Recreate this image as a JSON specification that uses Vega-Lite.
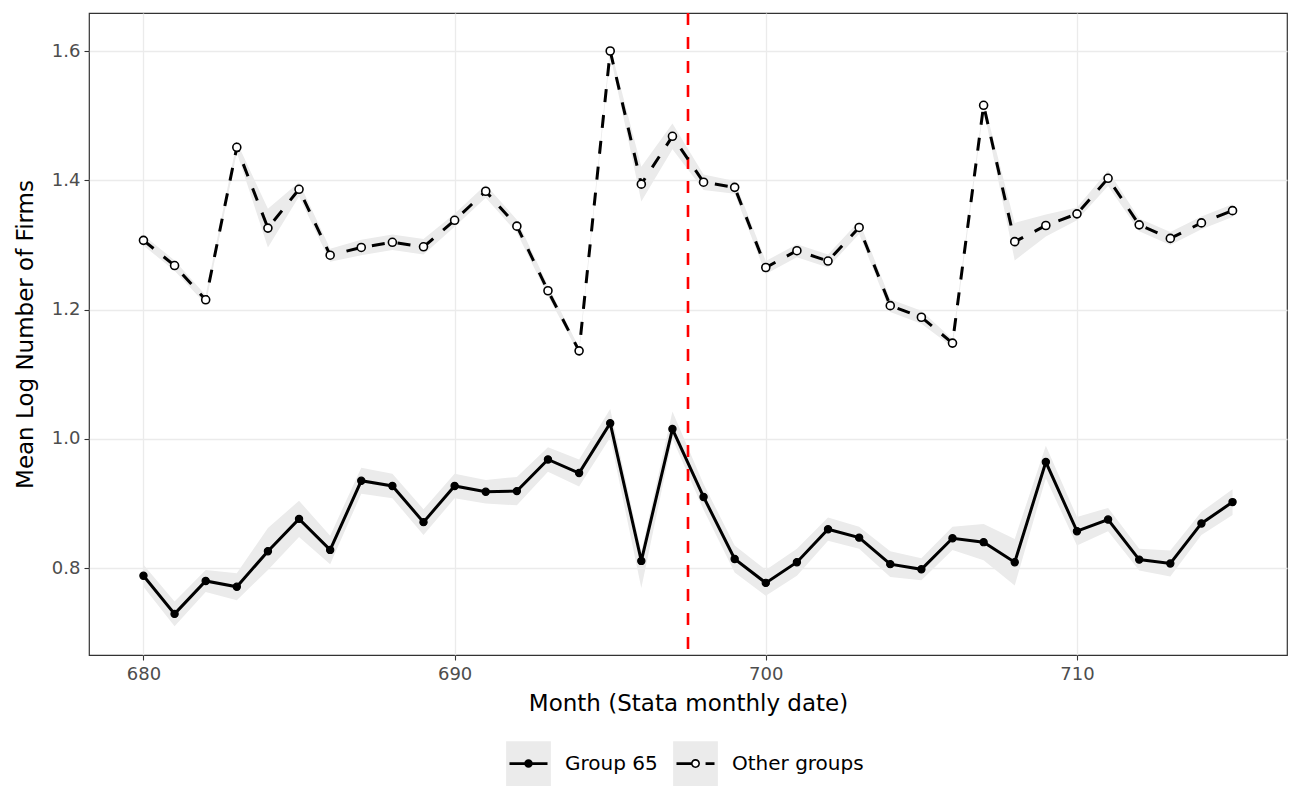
{
  "$schema": "https://vega.github.io/schema/vega-lite/v6.json",
  "autosize": {"type": "none"},
  "width": 1198,
  "height": 642,
  "padding": {"left": 89, "top": 13, "right": 13, "bottom": 145},
  "background": "white",
  "config": {
    "font": "DejaVu Sans",
    "view": {"stroke": "#333333", "strokeWidth": 1.2},
    "axis": {
      "domain": false,
      "grid": true,
      "gridColor": "#ebebeb",
      "gridWidth": 1.3,
      "tickColor": "#333333",
      "tickSize": 5,
      "tickWidth": 1.1,
      "labelColor": "#4d4d4d",
      "labelFontSize": 18,
      "labelFont": "DejaVu Sans",
      "titleFontSize": 23,
      "titleFontWeight": "normal",
      "titleColor": "black",
      "titleFont": "DejaVu Sans"
    }
  },
  "data": {
    "values": [
      {"month": 680, "group": "Group 65", "value": 0.788, "lo": 0.771, "hi": 0.805},
      {"month": 681, "group": "Group 65", "value": 0.729, "lo": 0.710, "hi": 0.748},
      {"month": 682, "group": "Group 65", "value": 0.780, "lo": 0.763, "hi": 0.797},
      {"month": 683, "group": "Group 65", "value": 0.771, "lo": 0.750, "hi": 0.792},
      {"month": 684, "group": "Group 65", "value": 0.826, "lo": 0.797, "hi": 0.862},
      {"month": 685, "group": "Group 65", "value": 0.876, "lo": 0.848, "hi": 0.904},
      {"month": 686, "group": "Group 65", "value": 0.828, "lo": 0.806, "hi": 0.850},
      {"month": 687, "group": "Group 65", "value": 0.935, "lo": 0.915, "hi": 0.955},
      {"month": 688, "group": "Group 65", "value": 0.927, "lo": 0.908, "hi": 0.946},
      {"month": 689, "group": "Group 65", "value": 0.871, "lo": 0.851, "hi": 0.891},
      {"month": 690, "group": "Group 65", "value": 0.927, "lo": 0.908, "hi": 0.946},
      {"month": 691, "group": "Group 65", "value": 0.918, "lo": 0.900, "hi": 0.936},
      {"month": 692, "group": "Group 65", "value": 0.919, "lo": 0.897, "hi": 0.941},
      {"month": 693, "group": "Group 65", "value": 0.968, "lo": 0.949, "hi": 0.987},
      {"month": 694, "group": "Group 65", "value": 0.947, "lo": 0.926, "hi": 0.968},
      {"month": 695, "group": "Group 65", "value": 1.024, "lo": 1.002, "hi": 1.046},
      {"month": 696, "group": "Group 65", "value": 0.811, "lo": 0.769, "hi": 0.825},
      {"month": 697, "group": "Group 65", "value": 1.015, "lo": 1.000, "hi": 1.042},
      {"month": 698, "group": "Group 65", "value": 0.910, "lo": 0.890, "hi": 0.930},
      {"month": 699, "group": "Group 65", "value": 0.814, "lo": 0.793, "hi": 0.835},
      {"month": 700, "group": "Group 65", "value": 0.777, "lo": 0.757, "hi": 0.797},
      {"month": 701, "group": "Group 65", "value": 0.809, "lo": 0.788, "hi": 0.830},
      {"month": 702, "group": "Group 65", "value": 0.860, "lo": 0.842, "hi": 0.878},
      {"month": 703, "group": "Group 65", "value": 0.847, "lo": 0.830, "hi": 0.864},
      {"month": 704, "group": "Group 65", "value": 0.806, "lo": 0.786, "hi": 0.826},
      {"month": 705, "group": "Group 65", "value": 0.798, "lo": 0.781, "hi": 0.815},
      {"month": 706, "group": "Group 65", "value": 0.846, "lo": 0.828, "hi": 0.864},
      {"month": 707, "group": "Group 65", "value": 0.840, "lo": 0.812, "hi": 0.868},
      {"month": 708, "group": "Group 65", "value": 0.809, "lo": 0.773, "hi": 0.845},
      {"month": 709, "group": "Group 65", "value": 0.964, "lo": 0.939, "hi": 0.989},
      {"month": 710, "group": "Group 65", "value": 0.857, "lo": 0.835, "hi": 0.879},
      {"month": 711, "group": "Group 65", "value": 0.875, "lo": 0.857, "hi": 0.893},
      {"month": 712, "group": "Group 65", "value": 0.813, "lo": 0.796, "hi": 0.830},
      {"month": 713, "group": "Group 65", "value": 0.807, "lo": 0.787, "hi": 0.827},
      {"month": 714, "group": "Group 65", "value": 0.869, "lo": 0.851, "hi": 0.887},
      {"month": 715, "group": "Group 65", "value": 0.902, "lo": 0.882, "hi": 0.922},
      {"month": 680, "group": "Other groups", "value": 1.307, "lo": 1.299, "hi": 1.315},
      {"month": 681, "group": "Other groups", "value": 1.268, "lo": 1.260, "hi": 1.276},
      {"month": 682, "group": "Other groups", "value": 1.215, "lo": 1.208, "hi": 1.222},
      {"month": 683, "group": "Other groups", "value": 1.451, "lo": 1.443, "hi": 1.459},
      {"month": 684, "group": "Other groups", "value": 1.326, "lo": 1.296, "hi": 1.356},
      {"month": 685, "group": "Other groups", "value": 1.386, "lo": 1.375, "hi": 1.397},
      {"month": 686, "group": "Other groups", "value": 1.284, "lo": 1.274, "hi": 1.294},
      {"month": 687, "group": "Other groups", "value": 1.296, "lo": 1.284, "hi": 1.308},
      {"month": 688, "group": "Other groups", "value": 1.304, "lo": 1.292, "hi": 1.316},
      {"month": 689, "group": "Other groups", "value": 1.297, "lo": 1.285, "hi": 1.309},
      {"month": 690, "group": "Other groups", "value": 1.338, "lo": 1.328, "hi": 1.348},
      {"month": 691, "group": "Other groups", "value": 1.383, "lo": 1.373, "hi": 1.393},
      {"month": 692, "group": "Other groups", "value": 1.329, "lo": 1.319, "hi": 1.339},
      {"month": 693, "group": "Other groups", "value": 1.229, "lo": 1.221, "hi": 1.237},
      {"month": 694, "group": "Other groups", "value": 1.136, "lo": 1.131, "hi": 1.141},
      {"month": 695, "group": "Other groups", "value": 1.600, "lo": 1.594, "hi": 1.606},
      {"month": 696, "group": "Other groups", "value": 1.394, "lo": 1.367, "hi": 1.421},
      {"month": 697, "group": "Other groups", "value": 1.468, "lo": 1.448, "hi": 1.488},
      {"month": 698, "group": "Other groups", "value": 1.397, "lo": 1.385, "hi": 1.409},
      {"month": 699, "group": "Other groups", "value": 1.389, "lo": 1.379, "hi": 1.399},
      {"month": 700, "group": "Other groups", "value": 1.265, "lo": 1.255, "hi": 1.275},
      {"month": 701, "group": "Other groups", "value": 1.291, "lo": 1.281, "hi": 1.301},
      {"month": 702, "group": "Other groups", "value": 1.275, "lo": 1.265, "hi": 1.285},
      {"month": 703, "group": "Other groups", "value": 1.327, "lo": 1.317, "hi": 1.337},
      {"month": 704, "group": "Other groups", "value": 1.206, "lo": 1.196, "hi": 1.216},
      {"month": 705, "group": "Other groups", "value": 1.188, "lo": 1.178, "hi": 1.198},
      {"month": 706, "group": "Other groups", "value": 1.148, "lo": 1.142, "hi": 1.154},
      {"month": 707, "group": "Other groups", "value": 1.516, "lo": 1.510, "hi": 1.522},
      {"month": 708, "group": "Other groups", "value": 1.305, "lo": 1.276, "hi": 1.334},
      {"month": 709, "group": "Other groups", "value": 1.330, "lo": 1.313, "hi": 1.347},
      {"month": 710, "group": "Other groups", "value": 1.348, "lo": 1.338, "hi": 1.358},
      {"month": 711, "group": "Other groups", "value": 1.403, "lo": 1.391, "hi": 1.415},
      {"month": 712, "group": "Other groups", "value": 1.331, "lo": 1.321, "hi": 1.341},
      {"month": 713, "group": "Other groups", "value": 1.310, "lo": 1.300, "hi": 1.320},
      {"month": 714, "group": "Other groups", "value": 1.334, "lo": 1.324, "hi": 1.344},
      {"month": 715, "group": "Other groups", "value": 1.353, "lo": 1.343, "hi": 1.363}
    ]
  },
  "encoding": {
    "x": {
      "field": "month",
      "type": "quantitative",
      "scale": {"domain": [678.25, 716.75], "nice": false, "zero": false},
      "axis": {"values": [680, 690, 700, 710], "title": "Month (Stata monthly date)", "labelPadding": 5, "titlePadding": 9}
    }
  },
  "layer": [
    {
      "mark": {"type": "area", "color": "#ebebeb", "opacity": 1},
      "encoding": {
        "y": {"field": "lo", "type": "quantitative", "scale": {"domain": [0.6654, 1.6588], "nice": false, "zero": false},
          "axis": {"values": [0.8, 1.0, 1.2, 1.4, 1.6], "format": ".1f", "title": "Mean Log Number of Firms", "labelPadding": 4, "titlePadding": 14}},
        "y2": {"field": "hi"},
        "detail": {"field": "group"}
      }
    },
    {
      "data": {"values": [{"cutoff": 697.5}]},
      "mark": {"type": "rule", "color": "#ff0000", "strokeWidth": 2.6, "strokeDash": [12, 12]},
      "encoding": {"x": {"field": "cutoff", "type": "quantitative"}}
    },
    {
      "transform": [{"filter": "datum.group === 'Group 65'"}],
      "mark": {"type": "line", "color": "black", "strokeWidth": 3},
      "encoding": {"y": {"field": "value", "type": "quantitative"}}
    },
    {
      "transform": [{"filter": "datum.group === 'Other groups'"}],
      "mark": {"type": "line", "color": "black", "strokeWidth": 3, "strokeDash": [13, 13]},
      "encoding": {"y": {"field": "value", "type": "quantitative"}}
    },
    {
      "transform": [{"filter": "datum.group === 'Group 65'"}],
      "mark": {"type": "point", "filled": true, "fill": "black", "stroke": "black", "strokeWidth": 1.2, "size": 52, "opacity": 1},
      "encoding": {"y": {"field": "value", "type": "quantitative"}}
    },
    {
      "transform": [{"filter": "datum.group === 'Other groups'"}],
      "mark": {"type": "point", "filled": true, "fill": "white", "stroke": "black", "strokeWidth": 1.6, "size": 64, "opacity": 1},
      "encoding": {"y": {"field": "value", "type": "quantitative"}}
    },
    {
      "transform": [{"filter": "false"}],
      "mark": {"type": "point", "filled": true, "shape": "M-1,-1H1V1H-1Z M0.15,0A0.15,0.15 0 1,0 -0.15,0A0.15,0.15 0 1,0 0.15,0", "stroke": "transparent", "strokeWidth": 0, "opacity": 1},
      "encoding": {
        "y": {"field": "value", "type": "quantitative"},
        "fill": {
          "field": "group",
          "type": "nominal",
          "scale": {"domain": ["a", "b"], "range": ["#ebebeb", "#ebebeb"]},
          "legend": {
            "title": null,
            "orient": "none",
            "legendX": 417,
            "legendY": 728,
            "direction": "horizontal",
            "zindex": 1,
            "symbolType": "M-1,-1H1V1H-1Z M0.15,0A0.15,0.15 0 1,0 -0.15,0A0.15,0.15 0 1,0 0.15,0",
            "symbolSize": 2000,
            "symbolStrokeWidth": 0,
            "symbolStrokeColor": "transparent",
            "symbolOpacity": 1,
            "labelExpr": "datum.value === 'a' ? 'Group 65' : 'Other groups'",
            "labelOpacity": 0,
            "labelFontSize": 20,
            "labelFont": "DejaVu Sans",
            "labelOffset": 14,
            "columnPadding": 15
          }
        }
      }
    },
    {
      "transform": [{"filter": "false"}],
      "mark": {"type": "point", "filled": true, "fill": "black", "stroke": "transparent", "strokeWidth": 0, "opacity": 1},
      "encoding": {
        "y": {"field": "value", "type": "quantitative"},
        "shape": {
          "field": "group",
          "type": "nominal",
          "scale": {
            "domain": ["Group 65", "Other groups"],
            "range": [
              "M-1,-1M1,1M-0.85,-0.06H0.85V0.06H-0.85Z M0.19,0A0.19,0.19 0 1,1 -0.19,0A0.19,0.19 0 1,1 0.19,0Z",
              "M-1,-1M1,1M-0.85,-0.06H-0.19V0.06H-0.85Z M0.2,0A0.2,0.2 0 1,1 -0.2,0A0.2,0.2 0 1,1 0.2,0Z M0.13,0A0.13,0.13 0 1,0 -0.13,0A0.13,0.13 0 1,0 0.13,0Z M0.45,-0.06H0.85V0.06H0.45Z"
            ]
          },
          "legend": {
            "title": null,
            "orient": "none",
            "legendX": 417,
            "legendY": 728,
            "direction": "horizontal",
            "zindex": 2,
            "symbolSize": 2000,
            "symbolStrokeWidth": 0,
            "symbolStrokeColor": "transparent",
            "symbolFillColor": "black",
            "symbolOpacity": 1,
            "labelFontSize": 20,
            "labelFont": "DejaVu Sans",
            "labelColor": "black",
            "labelOffset": 14,
            "columnPadding": 15
          }
        }
      }
    }
  ]
}
